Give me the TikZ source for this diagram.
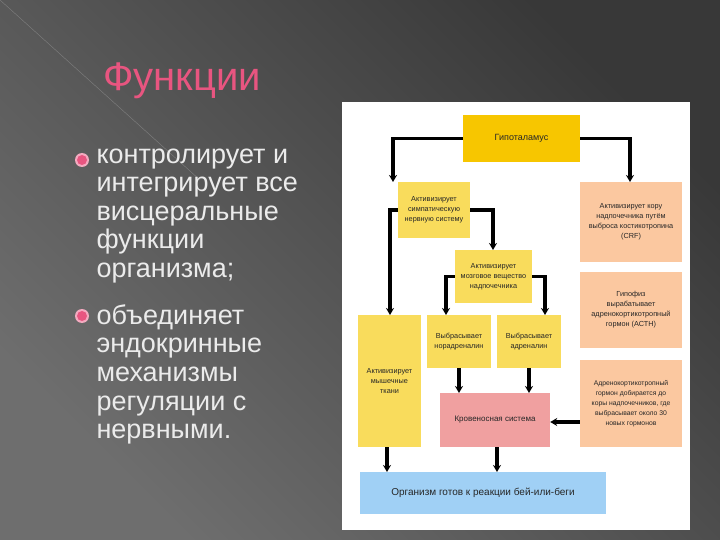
\documentclass[tikz,border=0pt]{standalone}
\usepackage{fontspec}
\setmainfont{Liberation Sans}
\usetikzlibrary{arrows.meta}
\definecolor{bgA}{HTML}{6E6E6E}
\definecolor{bgB}{HTML}{383838}
\definecolor{gold}{HTML}{F7C600}
\definecolor{ylw}{HTML}{F9DC5C}
\definecolor{org}{HTML}{FBC8A0}
\definecolor{pnk}{HTML}{F0A0A0}
\definecolor{blu}{HTML}{A0D0F5}
\definecolor{ttl}{HTML}{E85580}
\begin{document}
\begin{tikzpicture}[x=1pt,y=-1pt,
  box/.style={draw=none,inner sep=1pt,align=center,font=\fontsize{7.3}{10}\selectfont,text=black!85},
  arr/.style={line width=3.2pt,-{Stealth[length=7pt,width=8pt]}},
  btxt/.style={anchor=north west,align=left,text=white!92!black,font=\fontsize{27}{28.6}\selectfont}]
\shade[left color=bgA,right color=bgB,shading angle=135] (0,0) rectangle (720,540);
\useasboundingbox (0,0) rectangle (720,540);
\draw[white!50!gray,opacity=0.4] (0,0) -- (200,180);
\fill[white] (342,102) rectangle (690,530);
\node[text=ttl,font=\fontsize{40}{42}\selectfont] (t) at (182,81) {Функции};
\foreach \y in {160,316}{\fill[ttl!50!white] (82,\y) circle (7); \fill[ttl] (82,\y) circle (5);}
\node[btxt] (b1) at (93,145) {контролирует и\\интегрирует все\\висцеральные\\функции\\организма;};
\node[btxt] (b2) at (93,301) {объединяет\\эндокринные\\механизмы\\регуляции с\\нервными.};
% boxes
\node[box,fill=gold,minimum width=117,minimum height=47,font=\fontsize{9}{10}\selectfont] (h) at (521.5,138.5) {Гипоталамус};
\node[box,fill=ylw,minimum width=72,minimum height=56] (s) at (434,210) {Активизирует\\симпатическую\\нервную систему};
\node[box,fill=org,minimum width=102,minimum height=80] (r1) at (631,222) {Активизирует кору\\надпочечника путём\\выброса костикотропина\\(CRF)};
\node[box,fill=ylw,minimum width=77,minimum height=53] (m) at (493.5,276.5) {Активизирует\\мозговое вещество\\надпочечника};
\node[box,fill=org,minimum width=102,minimum height=76] (r2) at (631,310) {Гипофиз\\вырабатывает\\адренокортикотропный\\гормон (АСТН)};
\node[box,fill=ylw,minimum width=63,minimum height=132] (mu) at (389.5,381) {Активизирует\\мышечные\\ткани};
\node[box,fill=ylw,minimum width=64,minimum height=53] (n) at (459,341.5) {Выбрасывает\\норадреналин};
\node[box,fill=ylw,minimum width=64,minimum height=53] (a) at (529,341.5) {Выбрасывает\\адреналин};
\node[box,fill=pnk,minimum width=110,minimum height=54,font=\fontsize{8}{9}\selectfont] (k) at (495,420) {Кровеносная система};
\node[box,fill=org,minimum width=102,minimum height=87,font=\fontsize{6.8}{10}\selectfont] (r3) at (631,403.5) {Адренокортикотропный\\гормон добирается до\\коры надпочечников, где\\выбрасывает около 30\\новых гормонов};
\node[box,fill=blu,minimum width=246,minimum height=42,font=\fontsize{10}{11}\selectfont] (o) at (483,493) {Организм готов к реакции бей-или-беги};
% arrows
\draw[arr] (h.west) -| (393,182);
\draw[arr] (h.east) -| (630,182);
\draw[arr] (s.west) -| (390,315);
\draw[arr] (s.east) -| (493,250);
\draw[arr] (m.west) -| (446,315);
\draw[arr] (m.east) -| (545,315);
\draw[arr] (n.south) -- (459,393);
\draw[arr] (a.south) -- (529,393);
\draw[arr] (r3.west |- 0,422) -- (k.east |- 0,422);
\draw[arr] (387,447) -- (387,472);
\draw[arr] (497,447) -- (497,472);
\end{tikzpicture}
\end{document}
